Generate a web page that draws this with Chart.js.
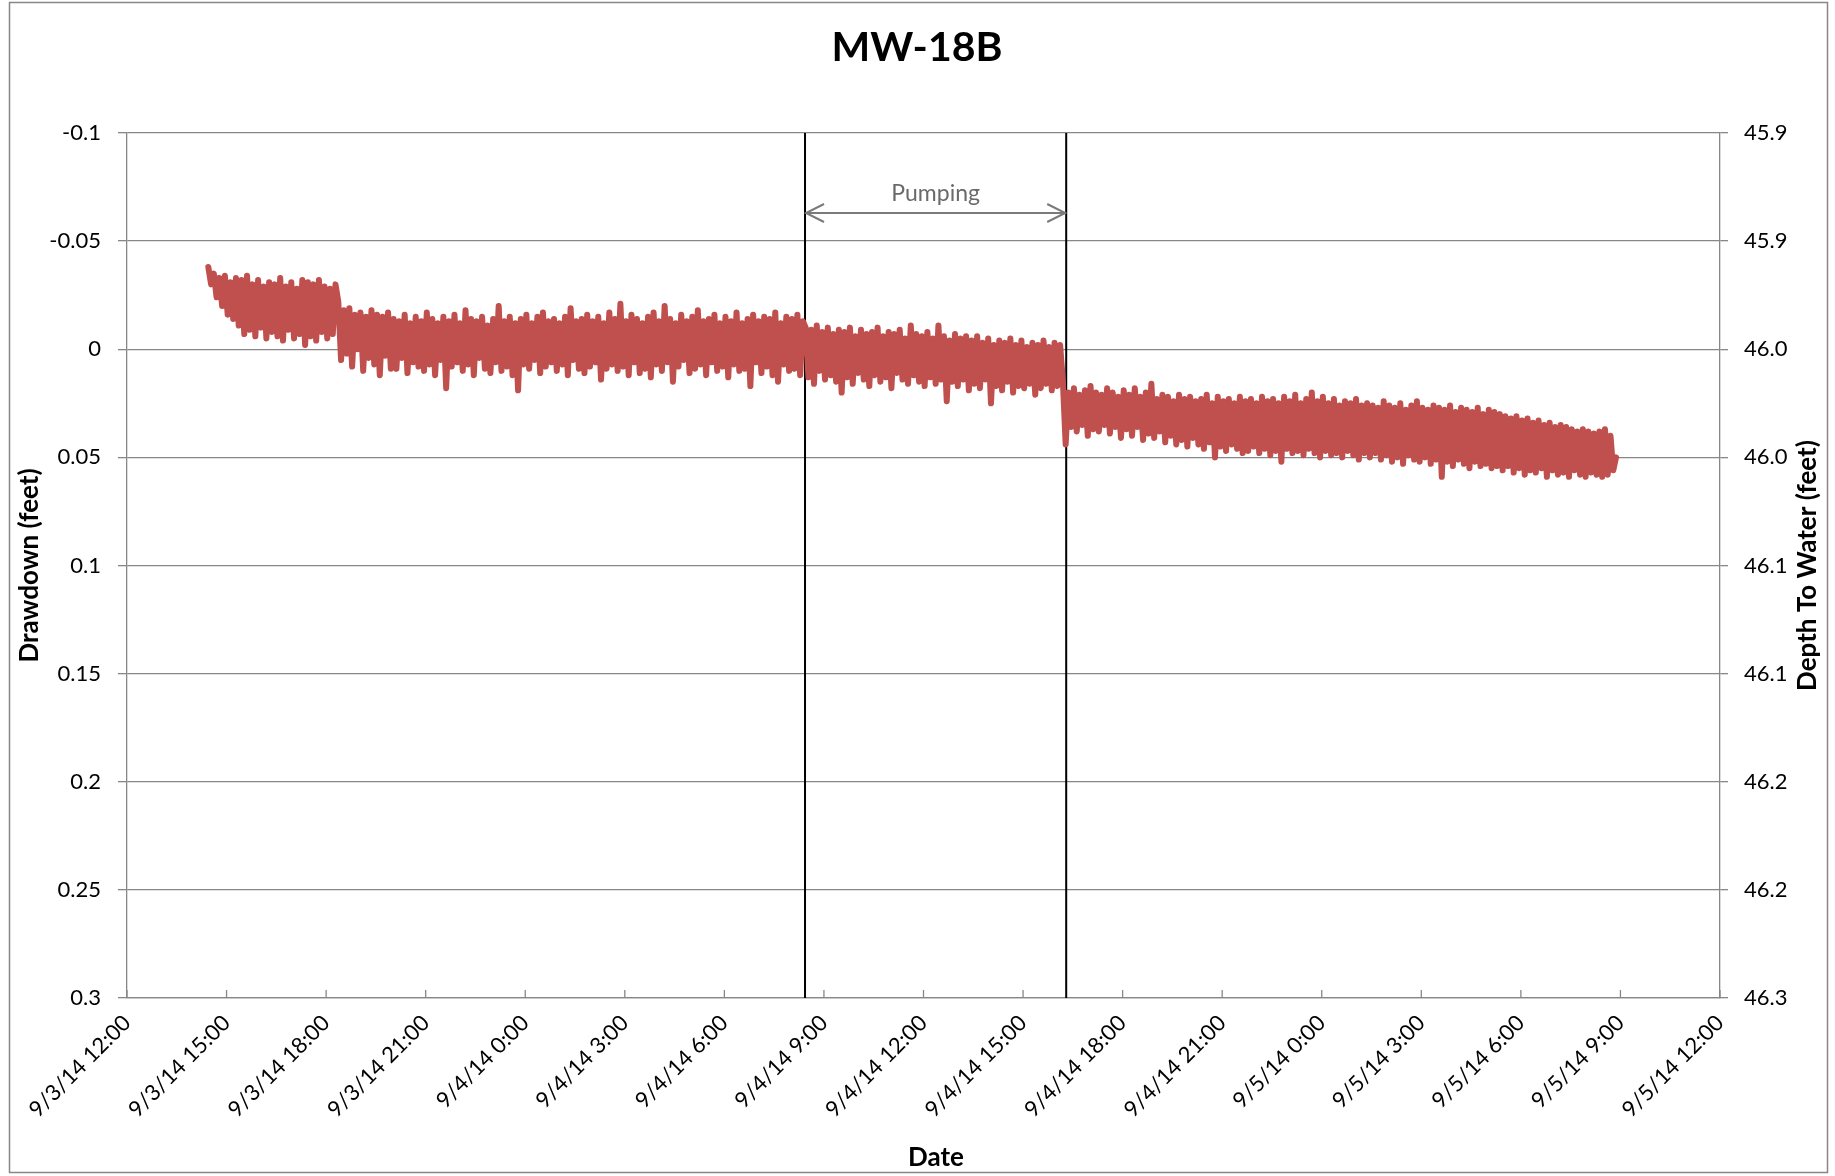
<!DOCTYPE html>
<html>
<head>
<meta charset="utf-8">
<title>MW-18B</title>
<script src="https://cdn.jsdelivr.net/npm/chart.js@4.4.1/dist/chart.umd.min.js"></script>
<style>
  body { margin: 0; background: #fff; }
  #wrap { width: 1835px; height: 1176px; position: relative; }
</style>
</head>
<body>
<div id="wrap"><canvas id="ddChart"></canvas></div>
<script>
const chartTitle = "MW-18B";
const xAxisTitle = "Date";
const leftAxisTitle = "Drawdown (feet)";
const rightAxisTitle = "Depth To Water (feet)";

// x axis is hours after 9/3/14 12:00
const xTickLabels = [
  "9/3/14 12:00", "9/3/14 15:00", "9/3/14 18:00", "9/3/14 21:00",
  "9/4/14 0:00", "9/4/14 3:00", "9/4/14 6:00", "9/4/14 9:00",
  "9/4/14 12:00", "9/4/14 15:00", "9/4/14 18:00", "9/4/14 21:00",
  "9/5/14 0:00", "9/5/14 3:00", "9/5/14 6:00", "9/5/14 9:00", "9/5/14 12:00"
];
// top to bottom (axis is reversed)
const leftTickLabels = ["-0.1", "-0.05", "0", "0.05", "0.1", "0.15", "0.2", "0.25", "0.3"];
const rightTickLabels = ["45.9", "45.9", "46.0", "46.0", "46.1", "46.1", "46.2", "46.2", "46.3"];

// logger readings every 5 min, first one at 9/3/14 14:27
// drawdown in thousandths of a foot
const firstReading = 2.45;
const readingStep = 5 / 60;
const drawdownMilliFt = [
  // before pumping
  -38, -30, -35, -24, -33, -20, -34, -16, -31, -14, -33, -11,
  -32, -7, -34, -9, -30, -6, -32, -10, -29, -5, -31, -8,
  -30, -6, -33, -4, -29, -9, -31, -5, -28, -7, -32, -2,
  -31, -6, -30, -4, -32, -8, -29, -5, -28, -7, -30,
  -22, 5, -18, 2, -19, 8, -16, 0, -17, 10, -15, 4, -18, 7, -16, 12, -15, 3, -17, 9,
  -14, 9, -13, 4, -16, 11, -12, 6, -15, 8, -13, 10,
  -17, 7, -14, 12, -12, 5, -15, 18, -13, 8, -16, 6,
  -12, 10, -18, 7, -14, 12, -13, 4, -15, 9, -11, 11,
  -14, 6, -20, 10, -13, 8, -15, 12, -12, 19, -14, 7,
  -16, 9, -12, 5, -15, 11, -17, 8, -13, 6, -14, 10,
  -12, 7, -15, 12, -19, 5, -13, 9, -14, 11, -16, 8,
  -13, 6, -15, 14, -12, 9, -17, 7, -14, 10, -21, 8,
  -13, 12, -16, 6, -14, 11, -12, 9, -15, 13, -17, 7,
  -13, 10, -20, 6, -14, 15, -12, 8, -16, 5, -13, 11,
  -15, 9, -18, 7, -13, 12, -14, 6, -16, 10, -12, 8,
  -15, 13, -13, 7, -17, 10, -12, 9, -14, 17, -16, 6,
  -13, 11, -15, 8, -14, 12, -17, 15, -12, 7, -15, 10,
  -14, 9, -16, 12, -13,
  // pumping
  -10, 13, -9, 16, -11, 10, -8, 14, -10, 12, -7, 15,
  -9, 20, -8, 13, -10, 16, -6, 11, -9, 14, -7, 17,
  -8, 12, -10, 15, -6, 13, -8, 18, -7, 11, -9, 14,
  -5, 16, -11, 12, -7, 15, -6, 17, -8, 13, -5, 16,
  -11, 14, -6, 24, -4, 15, -7, 17, -5, 14, -6, 19,
  -4, 16, -6, 18, -3, 14, -5, 25, -2, 17, -4, 19,
  -3, 15, -5, 20, -2, 17, -4, 18, -1, 16, -3, 21,
  -2, 18, -4, 16, -1, 19, -3, 17, -2, 15,
  // after pumping
  44, 20, 36, 18, 38, 21, 35, 19, 40, 17, 37, 20,
  38, 21, 35, 18, 39, 20, 36, 22, 41, 19, 37, 21,
  40, 18, 36, 22, 42, 20, 39, 16, 41, 23, 38, 21,
  43, 22, 40, 24, 44, 21, 42, 23, 45, 22, 41, 24,
  44, 23, 46, 21, 43, 25, 50, 22, 45, 24, 47, 23,
  44, 25, 46, 22, 48, 24,
  47, 23, 45, 25, 48, 22, 46, 24, 49, 23, 47, 25,
  52, 22, 46, 24, 48, 21, 47, 25, 49, 23, 46, 20,
  48, 24, 50, 22, 47, 25, 49, 23, 48, 26, 50, 24,
  47, 25, 49, 23, 51, 26, 48, 25,
  50, 26, 48, 27, 51, 24, 49, 26, 52, 27, 50, 25,
  53, 28, 49, 26, 51, 24, 52, 27, 50, 28, 53, 26,
  51, 27, 59, 28, 52, 26, 54, 29, 51, 27, 53, 28,
  55, 29, 52, 27, 54, 30, 53, 28, 55, 29, 54,
  30, 56, 31, 54, 32, 57, 31, 55, 33, 58, 32, 56,
  34, 57, 33, 55, 35, 59, 34, 56, 36, 58, 35, 57,
  36, 59, 37, 56, 38, 58, 37, 59, 38, 57, 39, 58,
  38, 59, 37, 58, 40, 56, 50
];

// pump on / off, hours after 9/3/14 12:00
const pumpTimes = [20.43, 28.3];
const pumpLabel = "Pumping";
const arrowLevel = -0.063;

const gray = "#878787";
const lineRed = "#C0504D";
const tickFont = { family: "Lato", size: 22 };

const drawdownPoints = drawdownMilliFt.map((v, i) => ({ x: firstReading + i * readingStep, y: v / 1000 }));
const pumpLine = (t) => [{ x: t, y: -0.1 }, { x: t, y: 0.3 }];
const tickIndex = (v) => Math.round((v + 0.1) / 0.05);

const extras = {
  id: "extras",
  afterDraw(chart) {
    const ctx = chart.ctx;
    const area = chart.chartArea;
    const xs = chart.scales.x;
    const ys = chart.scales.y;
    ctx.save();

    // outer frame
    ctx.strokeStyle = gray;
    ctx.lineWidth = 1.5;
    ctx.strokeRect(9.5, 2.5, 1818, 1170);

    // x ticks point into the plot
    ctx.lineWidth = 1.3;
    xs.ticks.forEach((t) => {
      const px = xs.getPixelForValue(t.value);
      ctx.beginPath();
      ctx.moveTo(px, area.bottom);
      ctx.lineTo(px, area.bottom - 8);
      ctx.stroke();
    });

    // pumping arrow
    const x1 = xs.getPixelForValue(pumpTimes[0]);
    const x2 = xs.getPixelForValue(pumpTimes[1]);
    const ay = ys.getPixelForValue(arrowLevel);
    ctx.strokeStyle = "#7a7a7a";
    ctx.lineWidth = 2;
    ctx.beginPath();
    ctx.moveTo(x1 + 1, ay);
    ctx.lineTo(x2 - 1, ay);
    ctx.moveTo(x1 + 19, ay - 9);
    ctx.lineTo(x1 + 1, ay);
    ctx.lineTo(x1 + 19, ay + 9);
    ctx.moveTo(x2 - 19, ay - 9);
    ctx.lineTo(x2 - 1, ay);
    ctx.lineTo(x2 - 19, ay + 9);
    ctx.stroke();
    ctx.fillStyle = "#6a6a6a";
    ctx.font = "23px Lato";
    ctx.textAlign = "center";
    ctx.textBaseline = "alphabetic";
    ctx.fillText(pumpLabel, (x1 + x2) / 2, ay - 12);

    // titles
    ctx.fillStyle = "#000";
    ctx.font = "bold 41px Lato";
    ctx.fillText(chartTitle, 917, 61);
    ctx.font = "bold 26px Lato";
    ctx.textBaseline = "middle";
    ctx.fillText(xAxisTitle, 936, 1158);
    const midY = (area.top + area.bottom) / 2;
    ctx.save();
    ctx.translate(30, midY);
    ctx.rotate(-Math.PI / 2);
    ctx.fillText(leftAxisTitle, 0, 0);
    ctx.restore();
    ctx.save();
    ctx.translate(1808, midY);
    ctx.rotate(-Math.PI / 2);
    ctx.fillText(rightAxisTitle, 0, 0);
    ctx.restore();

    ctx.restore();
  }
};

new Chart(document.getElementById("ddChart"), {
  type: "line",
  data: {
    datasets: [
      {
        label: "Drawdown",
        data: drawdownPoints,
        borderColor: lineRed,
        borderWidth: 6,
        borderJoinStyle: "round",
        borderCapStyle: "round",
        pointRadius: 0,
        tension: 0,
        yAxisID: "y",
      },
      {
        label: "Pump on",
        data: pumpLine(pumpTimes[0]),
        borderColor: "#000",
        borderWidth: 2,
        pointRadius: 0,
        yAxisID: "y",
      },
      {
        label: "Pump off",
        data: pumpLine(pumpTimes[1]),
        borderColor: "#000",
        borderWidth: 2,
        pointRadius: 0,
        yAxisID: "y",
      },
    ],
  },
  options: {
    responsive: true,
    maintainAspectRatio: false,
    animation: false,
    layout: { padding: { top: 133, left: 0, right: 0, bottom: 0 } },
    plugins: {
      legend: { display: false },
      tooltip: { enabled: false },
    },
    scales: {
      x: {
        type: "linear",
        min: 0,
        max: 48,
        afterFit: (s) => { s.height = 178; },
        ticks: {
          stepSize: 3,
          autoSkip: false,
          minRotation: 45,
          maxRotation: 45,
          padding: 12,
          color: "#000",
          font: tickFont,
          callback: (v, i) => xTickLabels[i],
        },
        grid: { drawOnChartArea: false, drawTicks: false },
        border: { display: true, color: gray, width: 1.3 },
      },
      y: {
        type: "linear",
        position: "left",
        reverse: true,
        min: -0.1,
        max: 0.3,
        afterFit: (s) => { s.width = 127; },
        ticks: {
          stepSize: 0.05,
          padding: 17,
          color: "#000",
          font: tickFont,
          callback: (v) => leftTickLabels[tickIndex(v)],
        },
        grid: { color: gray, lineWidth: 1.3, tickLength: 9 },
        border: { display: true, color: gray, width: 1.3 },
      },
      y2: {
        type: "linear",
        position: "right",
        reverse: true,
        min: -0.1,
        max: 0.3,
        afterFit: (s) => { s.width = 115; },
        ticks: {
          stepSize: 0.05,
          padding: 16,
          color: "#000",
          font: tickFont,
          callback: (v) => rightTickLabels[tickIndex(v)],
        },
        grid: { drawOnChartArea: false, color: gray, lineWidth: 1.3, tickLength: 8 },
        border: { display: true, color: gray, width: 1.3 },
      },
    },
  },
  plugins: [extras],
});
</script>
</body>
</html>
